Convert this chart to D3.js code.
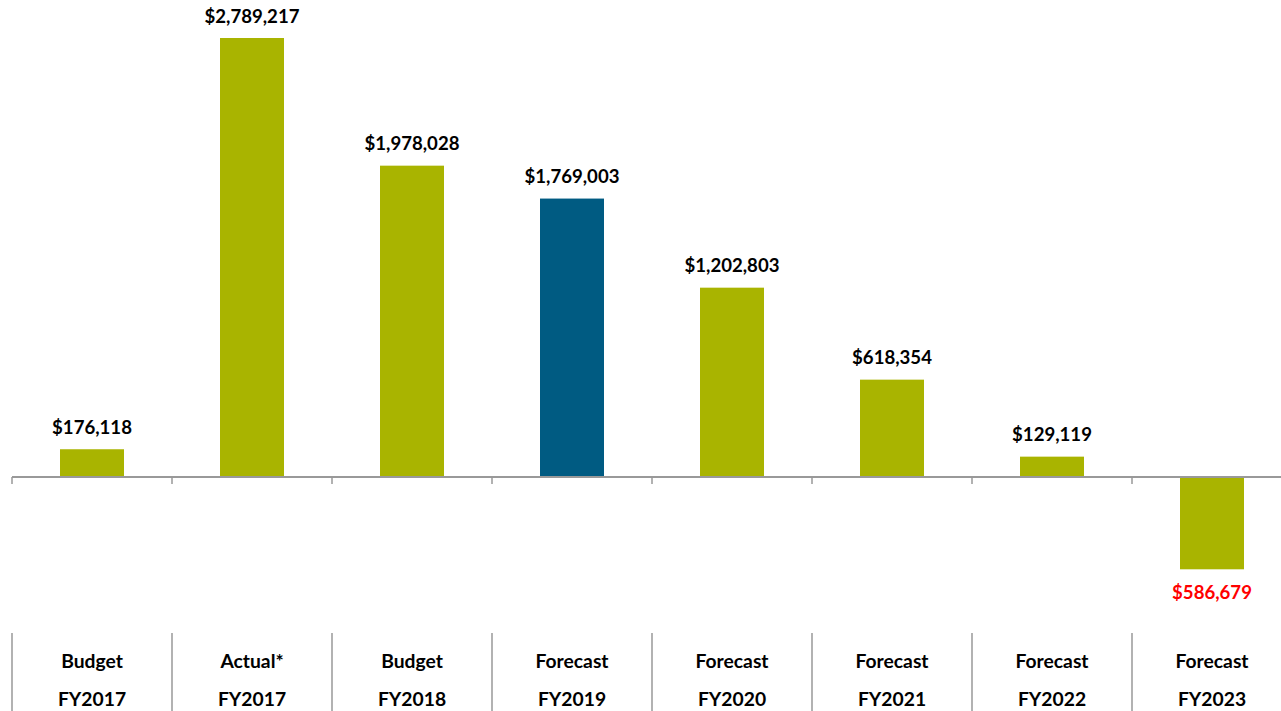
<!DOCTYPE html>
<html><head><meta charset="utf-8">
<script src="https://cdn.jsdelivr.net/npm/d3@7"></script>
<style>body{margin:0;background:#fff;}svg{display:block;}</style>
</head><body><svg id="c" width="1281" height="711"></svg>
<script>
const categoriesTop = ["Budget","Actual*","Budget","Forecast","Forecast","Forecast","Forecast","Forecast"];
const categoriesYear = ["FY2017","FY2017","FY2018","FY2019","FY2020","FY2021","FY2022","FY2023"];
const values = [176118, 2789217, 1978028, 1769003, 1202803, 618354, 129119, -586679];
const highlight = [false,false,false,true,false,false,false,false];

const svg = d3.select("#c");
const font = "Lato, 'Open Sans', sans-serif";
const x = d3.scaleBand().domain(d3.range(values.length)).range([12, 1292]).paddingInner(0.6).paddingOuter(0.3);
const y = d3.scaleLinear().domain([-586679, 2789217]).range([569.3, 38]);
const fmt = d3.format("$,");

svg.selectAll("rect.bar").data(values).join("rect")
  .attr("x",(d,i)=>x(i)).attr("width",x.bandwidth())
  .attr("y",d=>y(Math.max(0,d))).attr("height",d=>Math.abs(y(d)-y(0)))
  .attr("fill",(d,i)=>highlight[i]?"#005B82":"#A9B400");

const step = x.step();
svg.append("line").attr("x1",12).attr("x2",1281).attr("y1",y(0)).attr("y2",y(0))
  .attr("stroke","#999").attr("stroke-width",2);
svg.selectAll("line.tick").data(d3.range(values.length+1)).join("line")
  .attr("x1",i=>12+i*step).attr("x2",i=>12+i*step)
  .attr("y1",y(0)).attr("y2",y(0)+7).attr("stroke","#999").attr("stroke-width",1.5);

svg.selectAll("text.val").data(values).join("text")
  .attr("x",(d,i)=>x(i)+x.bandwidth()/2)
  .attr("y",d=>d>=0? y(d)-15.5 : y(d)+30)
  .attr("text-anchor","middle").attr("font-family",font).attr("font-weight","bold")
  .attr("font-size",18.6).attr("fill",d=>d<0?"#FF0000":"#000")
  .text(d=>fmt(Math.abs(d)));

svg.selectAll("line.sep").data(d3.range(values.length+1)).join("line")
  .attr("x1",i=>12+i*step).attr("x2",i=>12+i*step)
  .attr("y1",633).attr("y2",711).attr("stroke","#999").attr("stroke-width",1.5);

svg.selectAll("text.cat1").data(categoriesTop).join("text")
  .attr("x",(d,i)=>x(i)+x.bandwidth()/2).attr("y",667.5)
  .attr("text-anchor","middle").attr("font-family",font).attr("font-weight","bold")
  .attr("font-size",19.3).attr("fill","#000").text(d=>d);
svg.selectAll("text.cat2").data(categoriesYear).join("text")
  .attr("x",(d,i)=>x(i)+x.bandwidth()/2).attr("y",705.5)
  .attr("text-anchor","middle").attr("font-family",font).attr("font-weight","bold")
  .attr("font-size",19.3).attr("fill","#000").text(d=>d);
</script></body></html>
